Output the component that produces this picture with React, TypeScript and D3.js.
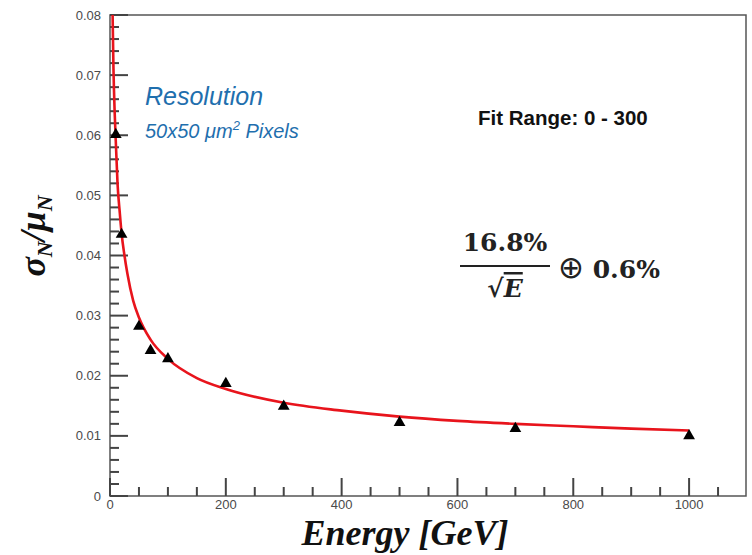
import React, { useEffect, useRef } from 'react';
import * as d3 from 'd3';

// measured points (triangles)
const energies = [10, 20, 50, 70, 100, 200, 300, 500, 700, 1000];
const resolution = [0.0601, 0.0435, 0.0282, 0.0242, 0.0228, 0.0187, 0.0149, 0.0122, 0.0112, 0.0100];

// fit curve
const fitE = [4.5, 6, 8, 10, 13, 17, 20, 25, 30, 40, 50, 70, 100, 150, 200, 300, 400, 500, 600, 700, 800, 900, 1000];
const fitV = [0.080, 0.071, 0.064, 0.059, 0.052, 0.047, 0.0437, 0.040, 0.037, 0.0325, 0.0297, 0.026, 0.0228, 0.0196, 0.0178, 0.0155, 0.0142, 0.0132, 0.0125, 0.0120, 0.0116, 0.0112, 0.0109];

const xMajor = [0, 200, 400, 600, 800, 1000];
const yMajor = [0, 0.01, 0.02, 0.03, 0.04, 0.05, 0.06, 0.07, 0.08];

const App = () => {
  const svgRef = useRef<SVGSVGElement>(null);
  const width = 752;
  const height = 555;
  const left = 110, top = 15, right = 746, bottom = 496;

  useEffect(() => {
    const svg = d3.select(svgRef.current);
    svg.selectAll('*').remove();

    const xScale = d3.scaleLinear().domain([0, 1100]).range([left, 747]);
    const yScale = d3.scaleLinear().domain([0, 0.08]).range([bottom, top]);

    svg.append('rect').attr('width', width).attr('height', height).attr('fill', 'white');

    // frame
    svg.append('rect')
      .attr('x', left).attr('y', top)
      .attr('width', right - left).attr('height', bottom - top)
      .attr('fill', 'none').attr('stroke', '#555').attr('stroke-width', 1.5);

    const tickColor = '#444';
    const sans = 'Liberation Sans, Arial, sans-serif';

    // x ticks (inside)
    const xMinor = d3.range(0, 1100, 50);
    svg.append('g').selectAll('line')
      .data(xMinor)
      .enter().append('line')
      .attr('x1', d => xScale(d)).attr('x2', d => xScale(d))
      .attr('y1', bottom).attr('y2', d => bottom - (d % 200 === 0 ? 18 : 9))
      .attr('stroke', tickColor).attr('stroke-width', 2);

    svg.append('g').selectAll('text')
      .data(xMajor)
      .enter().append('text')
      .attr('x', d => xScale(d)).attr('y', 509)
      .attr('text-anchor', 'middle')
      .style('font-family', sans)
      .style('font-size', '13px').attr('fill', '#4a4a4a')
      .text(d => String(d));

    // y ticks (inside)
    const yMinor = d3.range(0, 41).map(i => i * 0.002);
    svg.append('g').selectAll('line')
      .data(yMinor)
      .enter().append('line')
      .attr('x1', left).attr('x2', (d, i) => left + (i % 5 === 0 ? 18 : 9))
      .attr('y1', d => yScale(d)).attr('y2', d => yScale(d))
      .attr('stroke', tickColor).attr('stroke-width', 2);

    svg.append('g').selectAll('text')
      .data(yMajor)
      .enter().append('text')
      .attr('x', 101).attr('y', d => yScale(d) + 4.5)
      .attr('text-anchor', 'end')
      .style('font-family', sans)
      .style('font-size', '13px').attr('fill', '#4a4a4a')
      .text(d => (d === 0 ? '0' : d.toFixed(2)));

    // fit curve
    const fitData = fitE.map((e, i) => ({ x: e, y: fitV[i] }));
    const line = d3.line<{ x: number; y: number }>()
      .x(d => xScale(d.x))
      .y(d => yScale(d.y))
      .curve(d3.curveMonotoneX);

    svg.append('path')
      .datum(fitData)
      .attr('d', line)
      .attr('fill', 'none')
      .attr('stroke', '#e8141c')
      .attr('stroke-width', 2.6);

    // data triangles
    const tri = d3.symbol().type(d3.symbolTriangle).size(60);
    svg.append('g').selectAll('path')
      .data(energies)
      .enter().append('path')
      .attr('d', tri)
      .attr('transform', (d, i) => `translate(${xScale(d)},${yScale(resolution[i])})`)
      .attr('fill', 'black');

    // annotations
    svg.append('text')
      .attr('x', 145).attr('y', 105)
      .style('font-family', sans)
      .style('font-style', 'italic').style('font-size', '25px')
      .attr('fill', '#1f6fae')
      .text('Resolution');

    const sub = svg.append('text')
      .attr('x', 145).attr('y', 138)
      .style('font-family', sans)
      .style('font-style', 'italic').style('font-size', '20px')
      .attr('fill', '#1f6fae');
    sub.append('tspan').text('50x50 μm');
    sub.append('tspan').attr('dy', -8).style('font-size', '13px').text('2');
    sub.append('tspan').attr('dy', 8).text(' Pixels');

    svg.append('text')
      .attr('x', 478).attr('y', 125)
      .style('font-family', sans)
      .style('font-weight', 'bold').style('font-size', '20.5px')
      .attr('fill', '#111')
      .text('Fit Range: 0 - 300');

    // formula
    const math = 'DejaVu Serif, Liberation Serif, serif';
    svg.append('text')
      .attr('x', 505).attr('y', 251).attr('text-anchor', 'middle')
      .style('font-family', math).style('font-weight', 'bold').style('font-size', '25px')
      .attr('fill', '#222').text('16.8%');
    svg.append('line')
      .attr('x1', 460).attr('x2', 550).attr('y1', 266).attr('y2', 266)
      .attr('stroke', '#222').attr('stroke-width', 2);
    const den = svg.append('text')
      .attr('x', 505).attr('y', 297).attr('text-anchor', 'middle')
      .style('font-family', math).style('font-weight', 'bold').style('font-size', '25px')
      .attr('fill', '#222');
    den.append('tspan').text('√');
    den.append('tspan').style('font-style', 'italic').attr('text-decoration', 'overline').text('E');
    const tail = svg.append('text')
      .attr('x', 558).attr('y', 278)
      .style('font-family', math).style('font-weight', 'bold').style('font-size', '25px')
      .attr('fill', '#222');
    tail.append('tspan').style('font-family', 'DejaVu Sans, sans-serif').style('font-weight', 'normal')
      .style('font-size', '31px').text('⊕');
    tail.append('tspan').text(' 0.6%');

    // axis titles
    const serif = 'Liberation Serif, serif';
    svg.append('text')
      .attr('x', 405).attr('y', 545).attr('text-anchor', 'middle')
      .style('font-family', serif).style('font-weight', 'bold').style('font-style', 'italic')
      .style('font-size', '36px').attr('fill', '#111')
      .text('Energy [GeV]');

    const yt = svg.append('text')
      .attr('transform', 'translate(45,236) rotate(-90)')
      .attr('text-anchor', 'middle')
      .style('font-family', serif).style('font-weight', 'bold').style('font-style', 'italic')
      .style('font-size', '36px').attr('fill', '#111');
    yt.append('tspan').text('σ');
    yt.append('tspan').attr('dy', 7).style('font-size', '22px').text('N');
    yt.append('tspan').attr('dy', -7).text('/μ');
    yt.append('tspan').attr('dy', 7).style('font-size', '22px').text('N');
  }, []);

  return (
    <svg ref={svgRef} width={width} height={height} style={{ position: 'absolute', left: 0, top: 0 }}></svg>
  );
};

export default App;
